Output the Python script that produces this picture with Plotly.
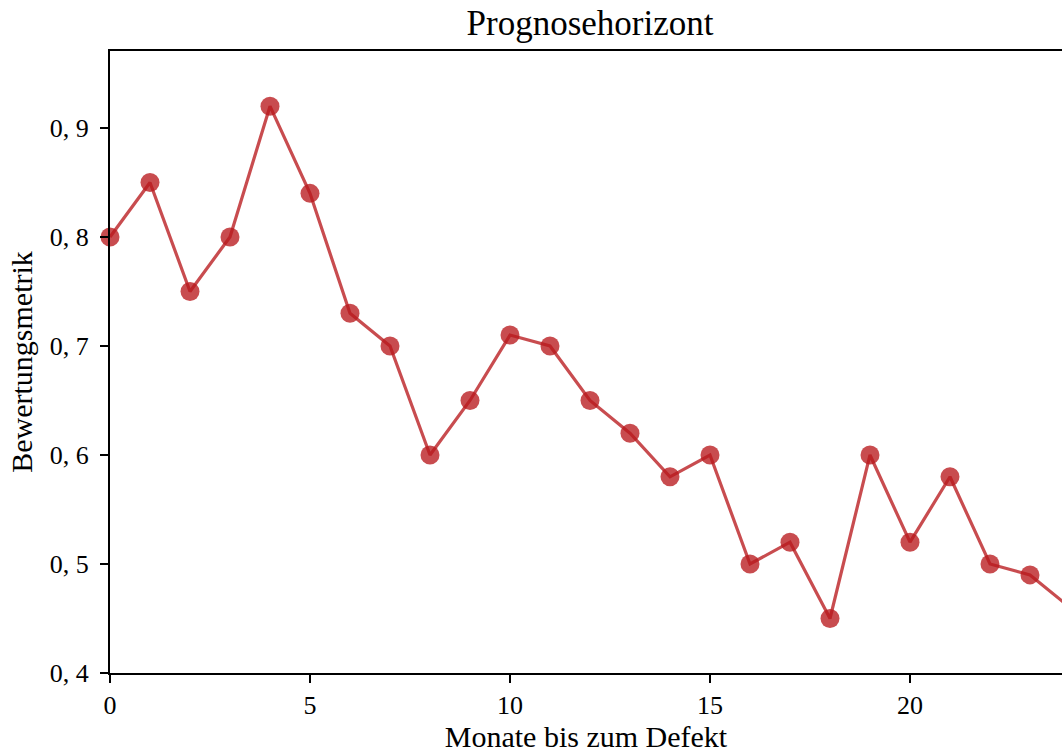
import plotly.graph_objects as go

months = list(range(0, 25))
metric = [0.80, 0.85, 0.75, 0.80, 0.92, 0.84, 0.73, 0.70, 0.60, 0.65, 0.71, 0.70,
          0.65, 0.62, 0.58, 0.60, 0.50, 0.52, 0.45, 0.60, 0.52, 0.58, 0.50, 0.49, 0.46]

x_tickvals = [0, 5, 10, 15, 20]
x_ticktext = ["0", "5", "10", "15", "20"]
y_tickvals = [0.4, 0.5, 0.6, 0.7, 0.8, 0.9]
y_ticktext = ["0, 4", "0, 5", "0, 6", "0, 7", "0, 8", "0, 9"]

FONT = "Liberation Serif"

fig = go.Figure()
fig.add_trace(go.Scatter(
    x=months, y=metric, mode="lines",
    line=dict(color="rgba(185,25,30,0.78)", width=3.2),
    cliponaxis=False, showlegend=False, hoverinfo="skip"))
fig.add_trace(go.Scatter(
    x=months, y=metric, mode="markers",
    marker=dict(color="rgba(185,25,30,0.78)", size=19, line=dict(width=0)),
    cliponaxis=False, showlegend=False))

fig.update_layout(
    width=1062, height=753,
    margin=dict(l=110, r=0, t=51, b=80),
    paper_bgcolor="white", plot_bgcolor="white",
    font=dict(family=FONT, size=25, color="black"),
    title=dict(text="Prognosehorizont", x=590/1062, xanchor="center",
               y=1 - 23/753, yanchor="middle",
               font=dict(family=FONT, size=35, color="black")),
    xaxis=dict(
        range=[0, 23.8], tickvals=x_tickvals, ticktext=x_ticktext,
        showgrid=False, zeroline=False, automargin=False,
        showline=True, linecolor="black", linewidth=2, mirror=True,
        ticks="outside", ticklen=8, tickwidth=2, tickcolor="black",
        tickfont=dict(family=FONT, size=26, color="black"),
        title=dict(text="Monate bis zum Defekt", standoff=14,
                   font=dict(family=FONT, size=30, color="black")),
    ),
    yaxis=dict(
        range=[0.4, 0.9706], tickvals=y_tickvals, ticktext=y_ticktext,
        showgrid=False, zeroline=False, automargin=False,
        showline=True, linecolor="black", linewidth=2, mirror=False,
        ticks="outside", ticklen=8, tickwidth=2, tickcolor="black",
        ticklabelstandoff=6,
        tickfont=dict(family=FONT, size=26, color="black"),
        title=dict(text="Bewertungsmetrik", standoff=8,
                   font=dict(family=FONT, size=30, color="black")),
    ),
)

fig.write_html("out.html")
